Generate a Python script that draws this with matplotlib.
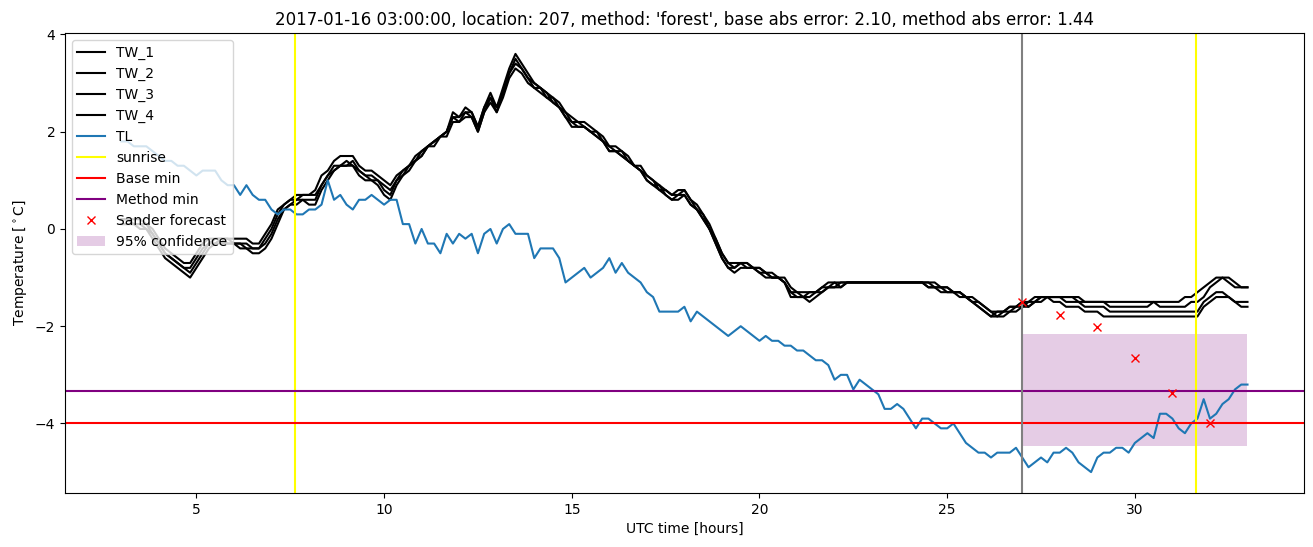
import numpy as np
import matplotlib
matplotlib.use("Agg")
import matplotlib.pyplot as plt

# time axis: 10-minute samples from 3 h to 33 h
hours = np.arange(181) / 6.0 + 3.0

TL = [
    1.8, 1.8, 1.7, 1.7, 1.7, 1.6,
    1.5, 1.4, 1.4, 1.3, 1.3, 1.2,
    1.1, 1.2, 1.2, 1.2, 1.0, 0.9,
    0.9, 0.7, 0.9, 0.7, 0.6, 0.6,
    0.4, 0.3, 0.4, 0.4, 0.3, 0.3,
    0.4, 0.4, 0.5, 1.0, 0.6, 0.7,
    0.5, 0.4, 0.6, 0.6, 0.7, 0.6,
    0.5, 0.6, 0.6, 0.1, 0.1, -0.3,
    0.0, -0.3, -0.3, -0.5, -0.1, -0.3,
    -0.1, -0.2, -0.1, -0.5, -0.1, 0.0,
    -0.3, 0.0, 0.1, -0.1, -0.1, -0.1,
    -0.6, -0.4, -0.4, -0.4, -0.6, -1.1,
    -1.0, -0.9, -0.8, -1.0, -0.9, -0.8,
    -0.6, -0.9, -0.7, -0.9, -1.0, -1.1,
    -1.3, -1.4, -1.7, -1.7, -1.7, -1.7,
    -1.6, -1.9, -1.7, -1.8, -1.9, -2.0,
    -2.1, -2.2, -2.1, -2.0, -2.1, -2.2,
    -2.3, -2.2, -2.3, -2.3, -2.4, -2.4,
    -2.5, -2.5, -2.6, -2.7, -2.7, -2.8,
    -3.1, -3.0, -3.0, -3.3, -3.1, -3.2,
    -3.3, -3.4, -3.7, -3.7, -3.6, -3.7,
    -3.9, -4.1, -3.9, -3.9, -4.0, -4.1,
    -4.1, -4.0, -4.2, -4.4, -4.5, -4.6,
    -4.6, -4.7, -4.6, -4.6, -4.6, -4.5,
    -4.7, -4.9, -4.8, -4.7, -4.8, -4.6,
    -4.6, -4.5, -4.6, -4.8, -4.9, -5.0,
    -4.7, -4.6, -4.6, -4.5, -4.5, -4.6,
    -4.4, -4.3, -4.2, -4.3, -3.8, -3.8,
    -3.9, -4.1, -4.2, -4.0, -3.9, -3.5,
    -3.9, -3.8, -3.6, -3.5, -3.3, -3.2,
    -3.2,
]

TW_1 = [
    0.2, 0.2, 0.2, 0.2, 0.1, 0.0,
    -0.2, -0.4, -0.5, -0.6, -0.7, -0.7,
    -0.5, -0.3, -0.2, -0.2, -0.2, -0.2,
    -0.2, -0.2, -0.2, -0.3, -0.3, -0.1,
    0.1, 0.4, 0.5, 0.6, 0.7, 0.7,
    0.7, 0.8, 1.1, 1.2, 1.4, 1.5,
    1.5, 1.5, 1.3, 1.2, 1.2, 1.1,
    1.0, 0.9, 1.1, 1.2, 1.3, 1.5,
    1.6, 1.7, 1.8, 1.9, 2.0, 2.4,
    2.3, 2.5, 2.4, 2.1, 2.5, 2.8,
    2.5, 2.9, 3.3, 3.6, 3.4, 3.2,
    3.0, 2.9, 2.8, 2.7, 2.6, 2.4,
    2.3, 2.2, 2.2, 2.1, 2.0, 1.9,
    1.7, 1.7, 1.6, 1.5, 1.3, 1.3,
    1.1, 1.0, 0.9, 0.8, 0.7, 0.8,
    0.8, 0.6, 0.5, 0.3, 0.1, -0.2,
    -0.5, -0.7, -0.7, -0.7, -0.7, -0.8,
    -0.8, -0.9, -0.9, -1.0, -1.0, -1.2,
    -1.3, -1.3, -1.3, -1.3, -1.2, -1.1,
    -1.1, -1.1, -1.1, -1.1, -1.1, -1.1,
    -1.1, -1.1, -1.1, -1.1, -1.1, -1.1,
    -1.1, -1.1, -1.1, -1.1, -1.1, -1.2,
    -1.2, -1.3, -1.3, -1.4, -1.4, -1.5,
    -1.6, -1.7, -1.7, -1.7, -1.6, -1.6,
    -1.5, -1.5, -1.4, -1.4, -1.4, -1.4,
    -1.4, -1.4, -1.4, -1.4, -1.5, -1.5,
    -1.5, -1.5, -1.5, -1.5, -1.5, -1.5,
    -1.5, -1.5, -1.5, -1.5, -1.5, -1.5,
    -1.5, -1.5, -1.4, -1.4, -1.3, -1.2,
    -1.1, -1.0, -1.0, -1.1, -1.2, -1.2,
    -1.2,
]

TW_2 = [
    0.2, 0.2, 0.1, 0.1, 0.1, -0.1,
    -0.3, -0.5, -0.6, -0.7, -0.8, -0.8,
    -0.6, -0.4, -0.3, -0.2, -0.2, -0.2,
    -0.3, -0.3, -0.3, -0.4, -0.4, -0.2,
    0.0, 0.3, 0.5, 0.6, 0.6, 0.7,
    0.7, 0.7, 0.9, 1.1, 1.3, 1.3,
    1.3, 1.4, 1.2, 1.1, 1.1, 1.0,
    0.9, 0.8, 1.0, 1.2, 1.3, 1.4,
    1.6, 1.7, 1.8, 1.9, 2.0, 2.3,
    2.3, 2.4, 2.4, 2.1, 2.5, 2.7,
    2.5, 2.8, 3.2, 3.5, 3.3, 3.1,
    3.0, 2.9, 2.8, 2.6, 2.5, 2.4,
    2.2, 2.2, 2.1, 2.0, 2.0, 1.8,
    1.7, 1.6, 1.6, 1.4, 1.3, 1.2,
    1.1, 1.0, 0.8, 0.8, 0.7, 0.7,
    0.8, 0.6, 0.4, 0.3, 0.0, -0.2,
    -0.5, -0.7, -0.8, -0.7, -0.7, -0.8,
    -0.8, -0.9, -1.0, -1.0, -1.1, -1.3,
    -1.3, -1.4, -1.4, -1.3, -1.2, -1.2,
    -1.1, -1.2, -1.1, -1.1, -1.1, -1.1,
    -1.1, -1.1, -1.1, -1.1, -1.1, -1.1,
    -1.1, -1.1, -1.1, -1.1, -1.2, -1.2,
    -1.2, -1.3, -1.3, -1.4, -1.5, -1.5,
    -1.6, -1.7, -1.8, -1.7, -1.7, -1.6,
    -1.6, -1.5, -1.5, -1.4, -1.4, -1.4,
    -1.4, -1.4, -1.4, -1.5, -1.5, -1.5,
    -1.5, -1.5, -1.6, -1.6, -1.6, -1.6,
    -1.6, -1.6, -1.6, -1.5, -1.6, -1.6,
    -1.6, -1.6, -1.6, -1.5, -1.5, -1.4,
    -1.2, -1.1, -1.0, -1.0, -1.1, -1.2,
    -1.2,
]

TW_3 = [
    0.1, 0.1, 0.1, 0.1, 0.0, -0.1,
    -0.3, -0.5, -0.6, -0.7, -0.8, -0.9,
    -0.7, -0.5, -0.3, -0.3, -0.2, -0.3,
    -0.3, -0.3, -0.4, -0.4, -0.4, -0.3,
    -0.1, 0.2, 0.4, 0.5, 0.6, 0.6,
    0.6, 0.6, 0.9, 1.1, 1.2, 1.3,
    1.4, 1.3, 1.2, 1.1, 1.0, 1.0,
    0.8, 0.7, 1.0, 1.1, 1.3, 1.4,
    1.5, 1.7, 1.8, 1.9, 2.0, 2.3,
    2.2, 2.4, 2.3, 2.0, 2.4, 2.7,
    2.4, 2.8, 3.2, 3.4, 3.3, 3.1,
    2.9, 2.9, 2.7, 2.7, 2.5, 2.3,
    2.2, 2.1, 2.1, 2.0, 1.9, 1.8,
    1.6, 1.6, 1.5, 1.4, 1.3, 1.2,
    1.0, 0.9, 0.9, 0.7, 0.6, 0.7,
    0.7, 0.5, 0.4, 0.2, 0.0, -0.3,
    -0.6, -0.8, -0.8, -0.7, -0.8, -0.8,
    -0.9, -0.9, -1.0, -1.0, -1.1, -1.3,
    -1.4, -1.4, -1.3, -1.3, -1.3, -1.2,
    -1.2, -1.1, -1.1, -1.1, -1.1, -1.1,
    -1.1, -1.1, -1.1, -1.1, -1.1, -1.1,
    -1.1, -1.1, -1.1, -1.2, -1.2, -1.3,
    -1.3, -1.3, -1.3, -1.4, -1.5, -1.6,
    -1.7, -1.8, -1.7, -1.7, -1.6, -1.6,
    -1.5, -1.6, -1.5, -1.5, -1.4, -1.4,
    -1.4, -1.5, -1.5, -1.5, -1.6, -1.6,
    -1.6, -1.6, -1.7, -1.7, -1.7, -1.7,
    -1.7, -1.7, -1.7, -1.7, -1.7, -1.7,
    -1.7, -1.7, -1.7, -1.7, -1.7, -1.5,
    -1.4, -1.3, -1.3, -1.4, -1.5, -1.5,
    -1.5,
]

TW_4 = [
    0.1, 0.1, 0.1, 0.0, 0.0, -0.2,
    -0.4, -0.6, -0.7, -0.8, -0.9, -1.0,
    -0.8, -0.6, -0.4, -0.3, -0.3, -0.3,
    -0.3, -0.4, -0.4, -0.5, -0.5, -0.4,
    -0.2, 0.1, 0.4, 0.5, 0.5, 0.6,
    0.5, 0.5, 0.8, 1.0, 1.2, 1.3,
    1.3, 1.3, 1.1, 1.0, 1.0, 0.9,
    0.7, 0.6, 0.9, 1.1, 1.2, 1.4,
    1.5, 1.7, 1.7, 1.9, 1.9, 2.2,
    2.2, 2.3, 2.3, 2.0, 2.4, 2.6,
    2.4, 2.7, 3.1, 3.3, 3.2, 3.0,
    2.9, 2.8, 2.7, 2.6, 2.5, 2.3,
    2.1, 2.1, 2.1, 2.0, 1.9, 1.8,
    1.6, 1.6, 1.5, 1.4, 1.3, 1.2,
    1.0, 0.9, 0.8, 0.7, 0.6, 0.6,
    0.7, 0.5, 0.4, 0.2, 0.0, -0.3,
    -0.6, -0.8, -0.9, -0.8, -0.8, -0.8,
    -0.9, -1.0, -1.0, -1.0, -1.1, -1.4,
    -1.4, -1.4, -1.5, -1.4, -1.3, -1.2,
    -1.2, -1.2, -1.1, -1.1, -1.1, -1.1,
    -1.1, -1.1, -1.1, -1.1, -1.1, -1.1,
    -1.1, -1.1, -1.1, -1.2, -1.2, -1.2,
    -1.3, -1.3, -1.4, -1.4, -1.5, -1.6,
    -1.7, -1.8, -1.8, -1.8, -1.7, -1.7,
    -1.6, -1.6, -1.5, -1.4, -1.4, -1.5,
    -1.5, -1.6, -1.6, -1.6, -1.7, -1.7,
    -1.7, -1.8, -1.8, -1.8, -1.8, -1.8,
    -1.8, -1.8, -1.8, -1.8, -1.8, -1.8,
    -1.8, -1.8, -1.8, -1.8, -1.8, -1.6,
    -1.5, -1.4, -1.4, -1.4, -1.5, -1.6,
    -1.6,
]

sunrise_hours = [7.63, 31.63]
forecast_start = 27.0
base_min = -4.0
method_min = -3.34
forecast_hours = [27, 28, 29, 30, 31, 32]
forecast_values = [-1.50, -1.76, -2.01, -2.65, -3.38, -4.00]
conf_span = [27.0, 33.0]
conf_low = -4.47
conf_high = -2.17

title = ("2017-01-16 03:00:00, location: 207, method: 'forest', "
         "base abs error: 2.10, method abs error: 1.44")

fig = plt.figure(figsize=(13.13, 5.47), dpi=100)
ax = fig.add_axes([0.0495, 0.0987, 0.9435, 0.841])

for name, series in [("TW_1", TW_1), ("TW_2", TW_2), ("TW_3", TW_3), ("TW_4", TW_4)]:
    ax.plot(hours, series, color="black", label=name)
ax.plot(hours, TL, color="#1f77b4", label="TL")
ax.axvline(sunrise_hours[0], color="yellow", label="sunrise")
ax.axvline(sunrise_hours[1], color="yellow")
ax.axhline(base_min, color="red", label="Base min")
ax.axhline(method_min, color="purple", label="Method min")
ax.axvline(forecast_start, color="gray")
ax.plot(forecast_hours, forecast_values, "x", color="red", label="Sander forecast")
ax.fill_between(conf_span, [conf_low, conf_low], [conf_high, conf_high],
                color="purple", alpha=0.2, linewidth=0, label="95% confidence")

ax.set_xlabel("UTC time [hours]")
ax.set_ylabel(r"Temperature [$^\circ$C]")
ax.set_title(title)
ax.legend(loc="upper left")

fig.savefig("out.png", dpi=100)
